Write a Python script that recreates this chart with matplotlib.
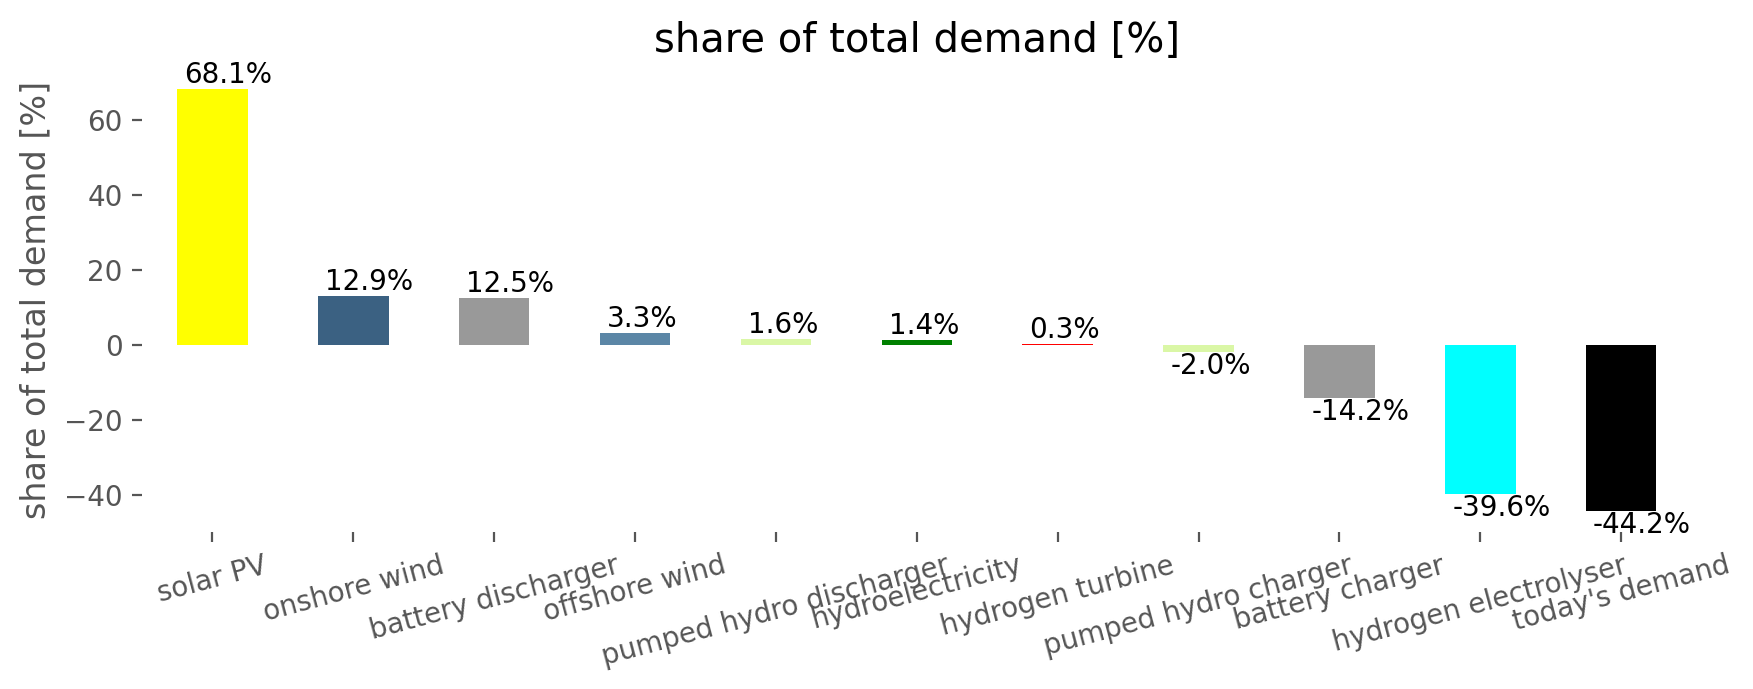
import numpy as np
import matplotlib
matplotlib.use("Agg")
import matplotlib.pyplot as plt

carriers = [
    "solar PV", "onshore wind", "battery discharger", "offshore wind",
    "pumped hydro discharger", "hydroelectricity", "hydrogen turbine",
    "pumped hydro charger", "battery charger", "hydrogen electrolyser",
    "today's demand",
]
shares = [68.1, 12.9, 12.5, 3.3, 1.6, 1.4, 0.3, -2.0, -14.2, -39.6, -44.2]
colors = [
    "#ffff00", "#3b6182", "#999999", "#5b86a6", "#daf7a6", "#008000",
    "#ff0000", "#daf7a6", "#999999", "#00ffff", "#000000",
]

plt.rcParams["font.family"] = "DejaVu Sans"
fig = plt.figure(figsize=(17.53 / 2, 6.89 / 2), dpi=200)
ax = fig.add_axes([0.081, 0.228, 0.884, 0.673])

x = np.arange(len(carriers))
bars = ax.bar(x, shares, width=0.5, color=colors)

for b, v in zip(bars, shares):
    xl = b.get_x() + 0.05
    if v >= 0:
        ax.text(xl, v, f"{v:.1f}%", ha="left", va="bottom", fontsize=10, color="black")
    else:
        ax.text(xl, v, f"{v:.1f}%", ha="left", va="top", fontsize=10, color="black")

ax.set_xlim(-0.5, len(carriers) - 0.5)
ax.set_yticks([-40, -20, 0, 20, 40, 60])
ax.set_xticks(x)
ax.set_xticklabels(carriers, rotation=15, ha="center")

for s in ax.spines.values():
    s.set_visible(False)
ax.tick_params(colors="#555555", labelcolor="#555555", labelsize=10)
ax.set_ylabel("share of total demand [%]", fontsize=12, color="#555555")
ax.set_title("share of total demand [%]", fontsize=14.4)

fig.savefig("out.png", dpi=200, facecolor="white")
